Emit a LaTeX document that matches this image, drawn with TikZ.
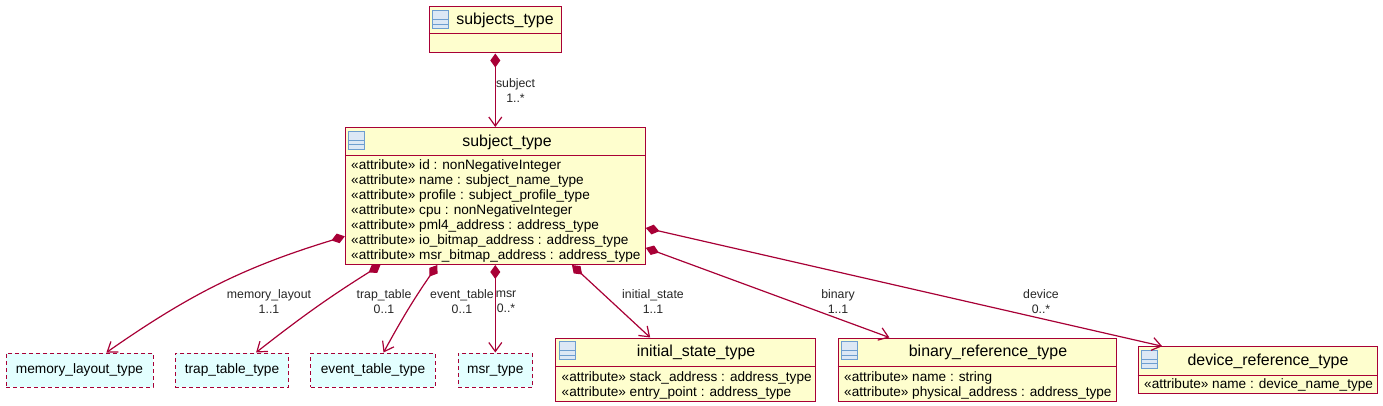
\documentclass[tikz,border=0pt]{standalone}
\usepackage{fontspec}
\setmainfont{Liberation Sans}
\usetikzlibrary{arrows.meta}
\definecolor{umlred}{HTML}{A80036}
\definecolor{umlyellow}{HTML}{FEFECE}
\definecolor{umlcyan}{HTML}{E3FFFF}
\definecolor{umlblue}{HTML}{6D9ECF}
\definecolor{umlpale}{HTML}{DCE8F5}
\tikzset{
	classbox/.style={draw=umlred, fill=umlyellow, line width=1pt, inner sep=0pt},
	refbox/.style={draw=umlred, fill=umlcyan, line width=1pt, dashed, dash pattern=on 4pt off 3pt, inner sep=0pt, font=\fontsize{13.7}{15}\selectfont},
	titletext/.style={font=\fontsize{15.9}{18}\selectfont, inner sep=0pt},
	attrtext/.style={font=\fontsize{13.6}{15}\selectfont, align=left, anchor=north west, inner sep=0pt},
	edgetext/.style={font=\fontsize{12.3}{15}\selectfont, align=center, inner sep=0pt, text=black!85},
	assoc/.style={draw=umlred, line width=1.2pt, {Diamond[length=14pt,width=10pt,fill=umlred]}-{Straight Barb[length=9pt,width=13pt]}}
}
% name, centre x, centre y, width, height, height of the head, title x
\newcommand{\classnode}[8]{
	\node[classbox, minimum width=#4, minimum height=#5](#1)at(#2, #3){};
	\draw[umlred, line width=1pt]([yshift=-#6]#1.north west)--([yshift=-#6]#1.north east);
	\draw[umlblue, fill=umlpale, line width=.8pt]([shift={(4, 4)}]#1.north west)rectangle([shift={(20, 22)}]#1.north west);
	\draw[umlblue, line width=.8pt]([shift={(4, 13)}]#1.north west)--([shift={(20, 13)}]#1.north west);
	\draw[umlblue, line width=.8pt]([shift={(4, 17.5)}]#1.north west)--([shift={(20, 17.5)}]#1.north west);
	\node[titletext](#1-title)at(#7, #3-#5/2+#6/2){#8};
}
\begin{document}
\begin{tikzpicture}[x=1pt, y=-1pt]
	\useasboundingbox(0, 0)rectangle(1383, 406);
	\classnode{subjects}{495.3}{30}{132}{46}{27.5}{505}{subjects\_type}
	\classnode{subject}{495.3}{196}{300}{137}{29}{507}{subject\_type}
	\classnode{initial}{685.7}{369.5}{260}{63}{29}{696}{initial\_state\_type}
	\classnode{binary}{977.3}{369.5}{278.6}{63}{29}{988}{binary\_reference\_type}
	\classnode{device}{1257.5}{370}{239}{46.5}{29}{1268}{device\_reference\_type}
	\node[attrtext](subject-attrs)at(351, 159.5){«attribute» id : nonNegativeInteger\\«attribute» name : subject\_name\_type\\«attribute» profile : subject\_profile\_type\\«attribute» cpu : nonNegativeInteger\\«attribute» pml4\_address : address\_type\\«attribute» io\_bitmap\_address : address\_type\\«attribute» msr\_bitmap\_address : address\_type};
	\node[attrtext](initial-attrs)at(561.5, 371){«attribute» stack\_address : address\_type\\«attribute» entry\_point : address\_type};
	\node[attrtext](binary-attrs)at(844, 371){«attribute» name : string\\«attribute» physical\_address : address\_type};
	\node[attrtext](device-attrs)at(1144, 378.5){«attribute» name : device\_name\_type};
	\node[refbox, minimum width=147, minimum height=34](memory)at(79.5, 370){memory\_layout\_type};
	\node[refbox, minimum width=113.5, minimum height=34](trap)at(232, 370){trap\_table\_type};
	\node[refbox, minimum width=124.5, minimum height=34](event)at(373, 370){event\_table\_type};
	\node[refbox, minimum width=74.5, minimum height=34](msr)at(495.3, 370){msr\_type};
	\draw[assoc](subjects.south)--(subject.north);
	\draw[assoc](subject.195.3)to[bend right=9](memory.33.7);
	\draw[assoc](subject.-149.3)to[bend right=3](trap.36.5);
	\draw[assoc](subject.-130.2)to[bend right=3](event.59.5);
	\draw[assoc](subject.south)--(msr.north);
	\draw[assoc](subject.-42.4)--(initial.138.6);
	\draw[assoc](subject.-19.8)--(binary.160.7);
	\draw[assoc](subject.-12)--(device.166.8);
	\node[edgetext](subject-label)at(515.5, 91){subject\\1..*};
	\node[edgetext](memory-label)at(269, 301.5){memory\_layout\\1..1};
	\node[edgetext](trap-label)at(384, 301.5){trap\_table\\0..1};
	\node[edgetext](event-label)at(462, 301.5){event\_table\\0..1};
	\node[edgetext](msr-label)at(506, 301.5){msr\\0..*};
	\node[edgetext](initial-label)at(653, 301.5){initial\_state\\1..1};
	\node[edgetext](binary-label)at(838, 301.5){binary\\1..1};
	\node[edgetext](device-label)at(1041, 301.5){device\\0..*};
\end{tikzpicture}
\end{document}
